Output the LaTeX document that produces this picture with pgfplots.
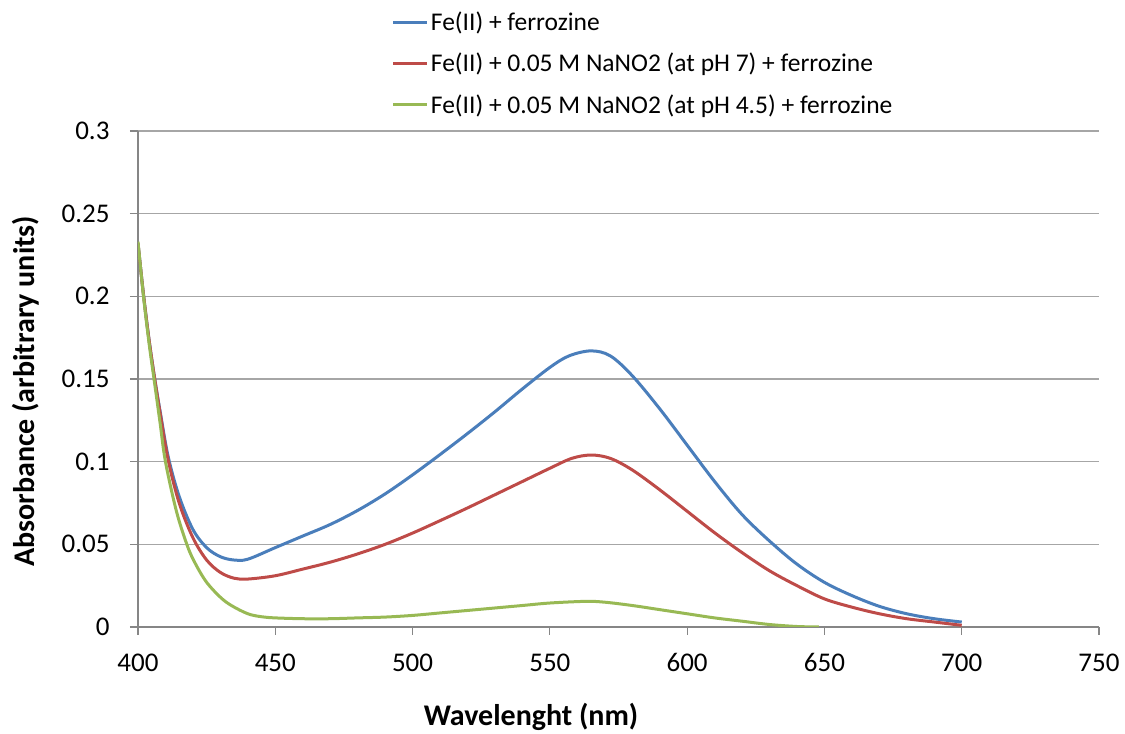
\documentclass[border=0pt]{standalone}
\usepackage{pgfplots}
\pgfplotsset{compat=1.18}
\usepackage{fontspec}
\setmainfont{Carlito}
\definecolor{sblue}{HTML}{4A7EBB}
\definecolor{sred}{HTML}{BE4B48}
\definecolor{sgreen}{HTML}{98B954}
\definecolor{gridc}{HTML}{A6A6A6}
\definecolor{axc}{HTML}{868686}
\begin{document}
\begin{tikzpicture}
\begin{axis}[name=ax,
  scale only axis, width=961pt, height=496pt,
  xmin=400, xmax=750, ymin=0, ymax=0.3,
  xtick={400,450,500,550,600,650,700,750},
  ytick={0,0.05,0.1,0.15,0.2,0.25,0.3},
  yticklabels={0,0.05,0.1,0.15,0.2,0.25,0.3},
  axis x line*=bottom, axis y line*=left,
  axis line style={draw=axc, line width=1.2pt, -},
  tick align=outside, major tick length=8pt,
  tick style={draw=axc, line width=1.2pt},
  ymajorgrids, grid style={draw=gridc, line width=1.2pt},
  /pgf/number format/assume math mode=true,
  ticklabel style={font=\fontsize{27}{30}\selectfont},
  yticklabel style={xshift=-17pt},
  xticklabel style={yshift=-15pt},
  xlabel={Wavelenght (nm)},
  ylabel={Absorbance (arbitrary units)},
  xlabel style={font=\fontsize{30}{34}\selectfont\bfseries, at={(axis description cs:0.409,-0.181)}, anchor=center},
  ylabel style={font=\fontsize{30}{34}\selectfont\bfseries, at={(axis description cs:-0.1165,0.475)}, anchor=center},
  legend style={at={(axis description cs:0.264,1.244)}, anchor=north west, draw=none, fill=none,
    font=\fontsize{25.5}{30}\selectfont, inner sep=0pt, row sep=17pt, cells={anchor=west}},
  legend image code/.code={\draw[#1] (0pt,0pt) -- (34pt,0pt);},
  every axis plot/.append style={line width=3pt, smooth, tension=0.55},
]
\addplot[sblue] coordinates {
(400,0.232) (402,0.201) (404,0.174) (406,0.151) (408,0.131) (411,0.103) (415,0.079) (420,0.059) (425,0.048) (430,0.0425)
(435,0.0405) (440,0.041) (450,0.048) (460,0.055) (470,0.062) (480,0.0705) (490,0.0805) (500,0.0920)
(510,0.1043) (520,0.1170) (530,0.1302) (540,0.1440) (550,0.1570) (557,0.1640) (565,0.167) (572,0.164)
(580,0.152) (590,0.132) (600,0.110) (610,0.088) (620,0.068) (630,0.052) (640,0.038)
(650,0.027) (660,0.019) (670,0.0125) (680,0.008) (690,0.005) (700,0.003)};
\addlegendentry{Fe(II) + ferrozine}
\addplot[sred] coordinates {
(400,0.232) (402,0.201) (404,0.174) (406,0.151) (408,0.130) (411,0.101) (415,0.075) (420,0.054) (425,0.0405) (430,0.033)
(435,0.0295) (440,0.029) (450,0.031) (460,0.035) (470,0.0392) (480,0.0442) (490,0.0500) (500,0.0568)
(510,0.0643) (520,0.0720) (530,0.0800) (540,0.0880) (550,0.0960) (558,0.102) (565,0.104) (572,0.102)
(580,0.095) (590,0.083) (600,0.070) (610,0.057) (620,0.045) (630,0.034) (640,0.025)
(650,0.017) (660,0.012) (670,0.008) (680,0.005) (690,0.003) (700,0.001)};
\addlegendentry{Fe(II) + 0.05 M NaNO2 (at pH 7) + ferrozine}
\addplot[sgreen] coordinates {
(400,0.233) (402,0.200) (404,0.172) (406,0.148) (408,0.124) (410,0.100) (414,0.070) (418,0.049) (421,0.038) (425,0.027)
(430,0.018) (434,0.013) (440,0.008) (445,0.0062) (450,0.0055) (460,0.005) (470,0.005) (480,0.0055)
(490,0.006) (500,0.007) (510,0.0085) (520,0.010) (530,0.0115) (540,0.013) (550,0.0145) (563,0.0155)
(570,0.015) (580,0.013) (590,0.0105) (600,0.008) (610,0.0055) (620,0.0035) (630,0.0015) (640,0.0003) (648,0.0)};
\addlegendentry{Fe(II) + 0.05 M NaNO2 (at pH 4.5) + ferrozine}
\end{axis}
\path ([shift={(-138pt,-107pt)}]ax.south west) rectangle ([shift={(26pt,131pt)}]ax.north east);
\end{tikzpicture}
\end{document}
